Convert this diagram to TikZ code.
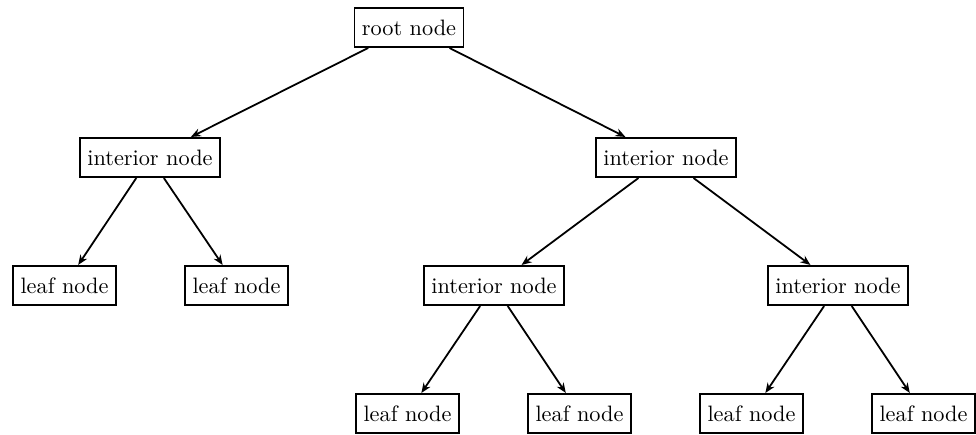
\documentclass[tikz,border=0pt]{standalone}
\usetikzlibrary{arrows.meta}
\begin{document}
\begin{tikzpicture}[x=0.4484pt,y=-0.4484pt,
  box/.style={draw, rectangle, thick, minimum height=17.6pt, font=\normalsize},
  edge/.style={thick, -{Stealth[length=4.5pt,width=3.6pt]}}]
\useasboundingbox (0,0) rectangle (976,435);
\node[box] (root) at (409,27.5) {root node};
\node[box] (iL) at (150,157.5) {interior node};
\node[box] (iR) at (666,157.5) {interior node};
\node[box] (l1) at (64.5,285.5) {leaf node};
\node[box] (l2) at (236.5,285.5) {leaf node};
\node[box] (iRL) at (494,285.5) {interior node};
\node[box] (iRR) at (838,285.5) {interior node};
\node[box] (l3) at (407.5,413.5) {leaf node};
\node[box] (l4) at (579.5,413.5) {leaf node};
\node[box] (l5) at (751.5,413.5) {leaf node};
\node[box] (l6) at (923.5,413.5) {leaf node};
\draw[edge] (root) -- (iL);
\draw[edge] (root) -- (iR);
\draw[edge] (iL) -- (l1);
\draw[edge] (iL) -- (l2);
\draw[edge] (iR) -- (iRL);
\draw[edge] (iR) -- (iRR);
\draw[edge] (iRL) -- (l3);
\draw[edge] (iRL) -- (l4);
\draw[edge] (iRR) -- (l5);
\draw[edge] (iRR) -- (l6);
\end{tikzpicture}
\end{document}
